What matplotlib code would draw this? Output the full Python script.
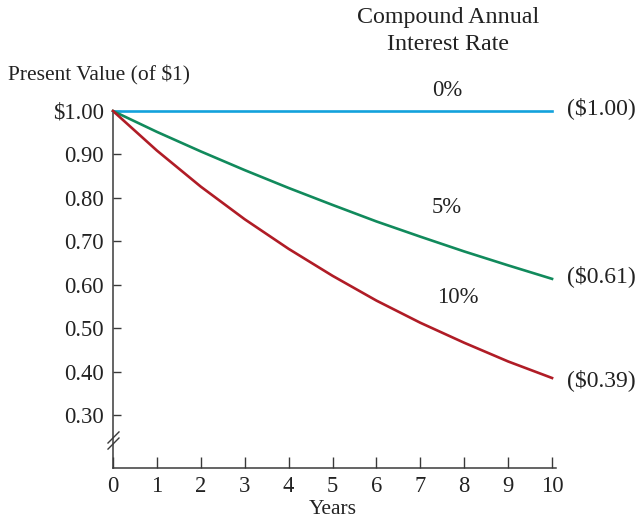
import matplotlib
matplotlib.use('Agg')
from matplotlib import pyplot as plt

years = [0, 1, 2, 3, 4, 5, 6, 7, 8, 9, 10]
pv_0 = [1.00, 1.00, 1.00, 1.00, 1.00, 1.00, 1.00, 1.00, 1.00, 1.00, 1.00]
pv_5 = [1.00, 0.952, 0.907, 0.864, 0.823, 0.784, 0.746, 0.711, 0.677, 0.645, 0.614]
pv_10 = [1.00, 0.909, 0.826, 0.751, 0.683, 0.621, 0.564, 0.513, 0.467, 0.424, 0.386]
rate_labels = ['0%', '5%', '10%']
end_labels = ['($1.00)', '($0.61)', '($0.39)']
yticks = [0.3, 0.4, 0.5, 0.6, 0.7, 0.8, 0.9, 1.0]
ytick_labels = ['0.30', '0.40', '0.50', '0.60', '0.70', '0.80', '0.90', '$1.00']

plt.rcParams['font.family'] = ['Liberation Serif', 'DejaVu Serif']
fs = 16.3
txt = '#222222'
dark = '#3a3a3a'

fig = plt.figure(figsize=(6.37, 5.26), dpi=100)
ax = fig.add_axes([113/637, 1 - 468/526, (556 - 113)/637, (468 - 111)/526])

blue = '#13a2dc'
green = '#118a5c'
red = '#b01c26'
ax.plot(years, pv_0, color=blue, lw=1.9, clip_on=False, zorder=3)
ax.plot(years, pv_5, color=green, lw=1.9, clip_on=False, zorder=3)
ax.plot(years, pv_10, color=red, lw=1.9, clip_on=False, zorder=3)

ax.set_xlim(0, 10.09)
ax.set_ylim(0.179, 1.0)
ax.set_xticks(years)
ax.set_xticklabels([str(y) for y in years])
ax.set_yticks(yticks)
ax.set_yticklabels(ytick_labels)
ax.tick_params(direction='in', length=6, width=1, color=dark, labelsize=fs, labelcolor=txt)
ax.tick_params(axis='x', length=8, pad=6)
ax.tick_params(axis='y', pad=6.5)
for s in ['top', 'right']:
    ax.spines[s].set_visible(False)
for s in ['left', 'bottom']:
    ax.spines[s].set_color(dark)
    ax.spines[s].set_linewidth(1.1)

# axis break marks
for y0 in [0.053, 0.070]:
    ax.plot([-0.0113, 0.0135], [y0, y0 + 0.031], transform=ax.transAxes,
            color=dark, lw=1, clip_on=False)

# rate labels on curves
ax.text(7.61, 1.048, rate_labels[0], fontsize=fs, ha='center', va='center', color=txt)
ax.text(7.61, 0.779, rate_labels[1], fontsize=fs, ha='center', va='center', color=txt)
ax.text(7.86, 0.572, rate_labels[2], fontsize=fs, ha='center', va='center', color=txt)

# end values
for lab, yy in zip(end_labels, [1.007, 0.621, 0.381]):
    ax.text(10.33, yy, lab, fontsize=17, ha='left', va='center', color=txt)

fig.text(8/637, 1 - 75/526, 'Present Value (of $1)', fontsize=15.5, ha='left', va='center', color=txt)
fig.text(448/637, 1 - 18/526, 'Compound Annual', fontsize=17.3, ha='center', va='center', color=txt)
fig.text(448/637, 1 - 45/526, 'Interest Rate', fontsize=17.3, ha='center', va='center', color=txt)
fig.text(333/637, 1 - 510/526, 'Years', fontsize=15.5, ha='center', va='center', color=txt)

fig.savefig('out.png', dpi=100)
